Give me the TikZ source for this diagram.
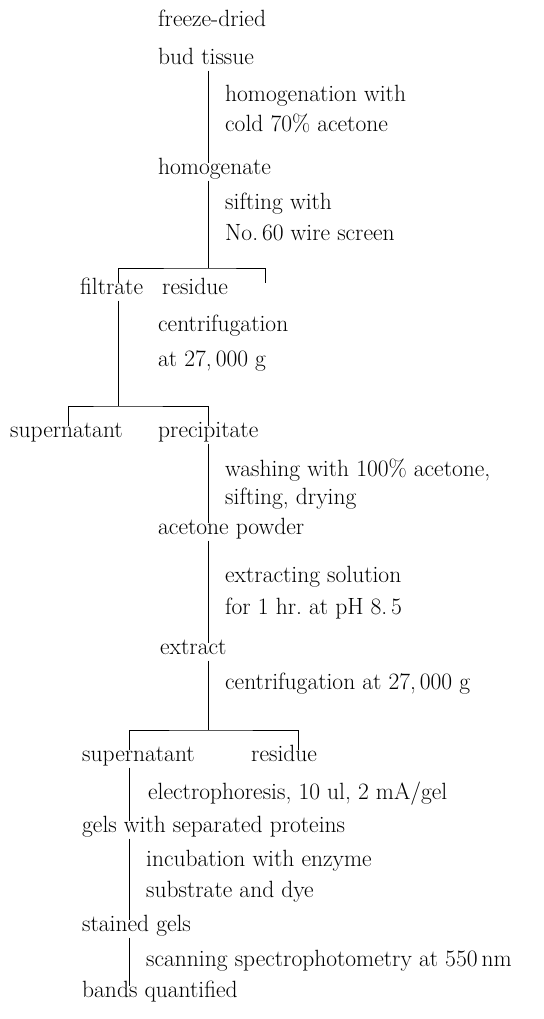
\documentclass[tikz,border=0pt]{standalone}
\usepackage{tikz}
\usepackage{amsmath}
\tikzset{
  item/.style={anchor=west, inner xsep=0pt, inner ysep=4pt,
    text height=0.68em, text depth=0.22em, font=\fontsize{23.5}{28}\selectfont},
  link/.style={draw, line width=0.8pt}
}

\begin{document}
\begin{tikzpicture}[x=1pt, y=-1pt]
      \useasboundingbox (0,0) rectangle (543,1019);
      % Define nodes
      \node[item] (fd)   at (158,24)  {freeze-dried};
      \node[item] (bud)  at (158,62)  {bud tissue};
      \node[item] (hw)   at (225,99)  {homogenation with};
      \node[item] (ca)   at (225,129) {cold 70\% acetone};
      \node[item] (hom)  at (158,172) {homogenate};
      \node[item] (sw)   at (225,207) {sifting with};
      \node[item] (ns)   at (225,238) {No.\,60 wire screen};
      \node[item] (fil)  at (80,292)  {filtrate};
      \node[item] (res)  at (162,292) {residue};
      \node[item] (cena) at (158,329) {centrifugation};
      \node[item] (ata)  at (158,364) {at 27,\,000 g};
      \node[item] (supa) at (10,435)  {supernatant};
      \node[item] (pre)  at (158,435) {precipitate};
      \node[item] (wa)   at (225,474) {washing with 100\% acetone,};
      \node[item] (sd)   at (225,502) {sifting, drying};
      \node[item] (ap)   at (158,532) {acetone powder};
      \node[item] (es)   at (225,580) {extracting solution};
      \node[item] (fo)   at (225,612) {for 1 hr.\ at pH 8.\,5};
      \node[item] (ext)  at (160,652) {extract};
      \node[item] (cenb) at (225,687) {centrifugation at 27,\,000 g};
      \node[item] (supb) at (82,759)  {supernatant};
      \node[item] (resb) at (251,759) {residue};
      \node[item] (el)   at (148,797) {electrophoresis, 10 ul, 2 mA/gel};
      \node[item] (gel)  at (82,830)  {gels with separated proteins};
      \node[item] (inc)  at (146,864) {incubation with enzyme};
      \node[item] (sub)  at (146,895) {substrate and dye};
      \node[item] (st)   at (82,929)  {stained gels};
      \node[item] (sc)   at (146,964) {scanning spectrophotometry at 550\,nm};
      \node[item] (bq)   at (82,995)  {bands quantified};
      % Stems and split points
      \coordinate (xa) at (208,0);
      \coordinate (xb) at (118,0);
      \coordinate (xc) at (265,0);
      \coordinate (xd) at (68,0);
      \coordinate (xe) at (129,0);
      \coordinate (xf) at (298,0);
      \coordinate (sa) at (208,268);
      \coordinate (sb) at (118,406);
      \coordinate (sc2) at (208,730);
      % Connect nodes
      \draw[link] (bud.south -| xa) -- (hom.north -| xa);
      \draw[link] (hom.south -| xa) -- (sa);
      \draw[link] (fil.north -| xb) |- (sa) -| (res.north -| xc);
      \draw[link] (fil.south -| xb) -- (sb);
      \draw[link] (supa.north -| xd) |- (sb) -| (pre.north -| xa);
      \draw[link] (pre.south -| xa) -- (ap.north -| xa);
      \draw[link] (ap.south -| xa) -- (ext.north -| xa);
      \draw[link] (ext.south -| xa) -- (sc2);
      \draw[link] (supb.north -| xe) |- (sc2) -| (resb.north -| xf);
      \draw[link] (supb.south -| xe) -- (gel.north -| xe);
      \draw[link] (gel.south -| xe) -- (st.north -| xe);
      \draw[link] (st.south -| xe) -- (bq.north -| xe);
\end{tikzpicture}
\end{document}
